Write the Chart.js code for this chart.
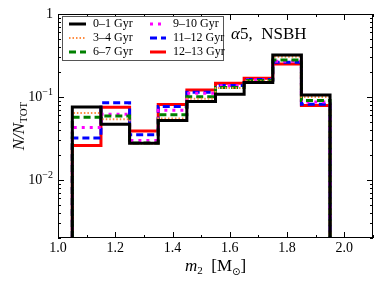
<!DOCTYPE html>
<html>
<head>
<meta charset="utf-8">
<script src="https://cdn.jsdelivr.net/npm/chart.js@4"></script>
<style>
  html, body { margin:0; padding:0; background:#fff; }
  #wrap { width:382px; height:288px; }
</style>
</head>
<body>
<div id="wrap"><canvas id="c" width="382" height="288"></canvas></div>
<script>
// ---------- data ----------
const binEdges = [1.05, 1.15, 1.25, 1.35, 1.45, 1.55, 1.65, 1.75, 1.85, 1.95];
const ageLabels = ["0\u20131 Gyr", "3\u20134 Gyr", "6\u20137 Gyr", "9\u201310 Gyr", "11\u201312 Gyr", "12\u201313 Gyr"];
const age0_1   = [0.076, 0.047, 0.0278, 0.052, 0.088, 0.108, 0.150, 0.320, 0.106];
const age3_4   = [0.064, 0.054, 0.0273, 0.055, 0.095, 0.128, 0.155, 0.305, 0.100];
const age6_7   = [0.057, 0.059, 0.0280, 0.061, 0.101, 0.130, 0.158, 0.280, 0.091];
const age9_10  = [0.043, 0.062, 0.0300, 0.069, 0.111, 0.137, 0.160, 0.270, 0.087];
const age11_12 = [0.032, 0.085, 0.0350, 0.077, 0.114, 0.138, 0.163, 0.262, 0.082];
const age12_13 = [0.026, 0.075, 0.0390, 0.081, 0.121, 0.146, 0.168, 0.250, 0.079];
const xTicks = [1.0, 1.2, 1.4, 1.6, 1.8, 2.0];
const yTicks = [1, 0.1, 0.01];

const X_MIN = 1.0, X_MAX = 2.1, Y_MIN = 0.002, Y_MAX = 1;

// histogram outline: rise at first edge, steps, drop at last edge
function stepPoints(vals){
    const pts = [{x: binEdges[0], y: Y_MIN}];
    vals.forEach((v, i) => pts.push({x: binEdges[i], y: v}));
    pts.push({x: binEdges[binEdges.length-1], y: vals[vals.length-1]});
    pts.push({x: binEdges[binEdges.length-1], y: Y_MIN});
    return pts;
}

const styles = [
    {color:"#000000", width:3,   dash:[]},
    {color:"#ff8c40", width:2,   dash:[1.5,2]},
    {color:"#008000", width:3,   dash:[7,4]},
    {color:"#ff00ff", width:3,   dash:[3,5]},
    {color:"#0000ff", width:3,   dash:[7,4]},
    {color:"#ff0000", width:3,   dash:[]}
];
const series = [age0_1, age3_4, age6_7, age9_10, age11_12, age12_13];

const datasets = series.map((vals, i) => ({
    label: ageLabels[i],
    data: stepPoints(vals),
    borderColor: styles[i].color,
    borderWidth: styles[i].width,
    borderDash: styles[i].dash,
    stepped: "before",
    pointRadius: 0,
    fill: false,
    order: i
}));

const SERIF = "'Liberation Serif', 'DejaVu Serif', serif";

// ---------- custom drawing: frame, inward ticks, labels, legend, titles ----------
const decorations = {
    id: "decorations",
    afterDraw(chart){
        const ctx = chart.ctx;
        const a = chart.chartArea;
        const xs = chart.scales.x, ys = chart.scales.y;
        ctx.save();

        // frame
        ctx.strokeStyle = "#000";
        ctx.lineWidth = 1;
        ctx.strokeRect(a.left + 0.5, a.top + 0.5, a.right - a.left - 1, a.bottom - a.top - 1);

        // x ticks (major + minor), inward on bottom and top
        ctx.beginPath();
        for (let k = 0; k <= Math.round((X_MAX - X_MIN) * 10); k++){
            const v = X_MIN + k * 0.1;
            const px = Math.round(xs.getPixelForValue(v)) + 0.5;
            const len = (k % 2 === 0) ? 6 : 3;
            ctx.moveTo(px, a.bottom); ctx.lineTo(px, a.bottom - len);
            ctx.moveTo(px, a.top); ctx.lineTo(px, a.top + len);
        }
        // y ticks (log major + minor)
        for (let e = -3; e <= 0; e++){
            for (let m = 1; m <= 9; m++){
                const v = m * Math.pow(10, e);
                if (v < Y_MIN - 1e-9 || v > Y_MAX + 1e-9) continue;
                const py = Math.round(ys.getPixelForValue(v)) + 0.5;
                const len = (m === 1) ? 6 : 3;
                ctx.moveTo(a.left, py); ctx.lineTo(a.left + len, py);
                ctx.moveTo(a.right, py); ctx.lineTo(a.right - len, py);
            }
        }
        ctx.stroke();

        // x tick labels
        ctx.fillStyle = "#000";
        ctx.font = "14px " + SERIF;
        ctx.textAlign = "center";
        ctx.textBaseline = "middle";
        xTicks.forEach(v => ctx.fillText(v.toFixed(1), xs.getPixelForValue(v), a.bottom + 10));

        // y tick labels with superscripts
        yTicks.forEach(v => {
            const py = ys.getPixelForValue(v);
            const exp = Math.round(Math.log10(v));
            ctx.textBaseline = "middle";
            if (exp === 0){
                ctx.font = "14px " + SERIF;
                ctx.textAlign = "right";
                ctx.fillText("1", a.left - 5, py);
            } else {
                ctx.font = "10px " + SERIF;
                ctx.textAlign = "right";
                const sup = "\u2212" + Math.abs(exp);
                ctx.fillText(sup, a.left - 5, py - 5);
                const w = ctx.measureText(sup).width;
                ctx.font = "14px " + SERIF;
                ctx.fillText("10", a.left - 5 - w, py);
            }
        });

        // y axis title: N/N_TOT
        ctx.save();
        ctx.translate(20, (a.top + a.bottom) / 2);
        ctx.rotate(-Math.PI / 2);
        ctx.textBaseline = "middle";
        ctx.textAlign = "left";
        const p1 = "N/N";
        const sub = "TOT";
        ctx.font = "italic 17px " + SERIF;
        const w1 = ctx.measureText(p1).width;
        ctx.font = "11px " + SERIF;
        const w2 = ctx.measureText(sub).width;
        const start = -(w1 + w2) / 2;
        ctx.font = "italic 17px " + SERIF;
        ctx.fillText(p1, start, 0);
        ctx.font = "11px " + SERIF;
        ctx.fillText(sub, start + w1, 4);
        ctx.restore();

        // x axis title: m_2 [M_sun]
        ctx.save();
        ctx.textBaseline = "middle";
        ctx.textAlign = "left";
        const parts = [
            {t:"m", f:"italic 17px " + SERIF, dy:0},
            {t:"2", f:"11px " + SERIF, dy:4},
            {t:"  [M", f:"17px " + SERIF, dy:0},
            {t:"\u2299", f:"10px 'DejaVu Sans', sans-serif", dy:5},
            {t:"]", f:"17px " + SERIF, dy:0}
        ];
        let tw = 0;
        parts.forEach(p => { ctx.font = p.f; p.w = ctx.measureText(p.t).width; tw += p.w; });
        let cx = (a.left + a.right) / 2 - tw / 2;
        const ty = 267;
        parts.forEach(p => { ctx.font = p.f; ctx.fillText(p.t, cx, ty + p.dy); cx += p.w; });
        ctx.restore();

        // annotation
        ctx.font = "italic 17px " + SERIF;
        ctx.textAlign = "left";
        ctx.textBaseline = "middle";
        ctx.fillText("\u03b1", 231, 35);
        const wa = ctx.measureText("\u03b1").width;
        ctx.font = "17px " + SERIF;
        ctx.fillText("5,  NSBH", 231 + wa, 35);

        // legend
        const lx = 62, ly = 16, lw = 161, lh = 44;
        ctx.fillStyle = "#fff";
        ctx.fillRect(lx, ly, lw, lh);
        ctx.strokeStyle = "#555";
        ctx.lineWidth = 1;
        ctx.strokeRect(lx + 0.5, ly + 0.5, lw, lh);
        const cols = [{x0:69, x1:86, tx:93}, {x0:150, x1:166, tx:173}];
        const rows = [24, 38, 52];
        chart.data.datasets.forEach((ds, i) => {
            const c = cols[Math.floor(i / 3)];
            const y = rows[i % 3];
            ctx.beginPath();
            ctx.strokeStyle = ds.borderColor;
            ctx.lineWidth = ds.borderWidth;
            ctx.setLineDash(ds.borderDash);
            ctx.moveTo(c.x0, y); ctx.lineTo(c.x1, y);
            ctx.stroke();
            ctx.setLineDash([]);
            ctx.fillStyle = "#000";
            ctx.font = "12px " + SERIF;
            ctx.textAlign = "left";
            ctx.textBaseline = "middle";
            ctx.fillText(ds.label, c.tx, y);
        });

        ctx.restore();
    }
};

new Chart(document.getElementById("c"), {
    type: "line",
    data: { datasets: datasets },
    options: {
        responsive: false,
        animation: false,
        layout: { padding: { top: 14, right: 9, left: 0, bottom: 0 } },
        plugins: { legend: { display:false }, tooltip: { enabled:false } },
        scales: {
            x: {
                type: "linear", min: X_MIN, max: X_MAX,
                grid: { display:false },
                border: { display:false },
                ticks: { display:false },
                afterFit: s => { s.height = 50; }
            },
            y: {
                type: "logarithmic", min: Y_MIN, max: Y_MAX,
                grid: { display:false },
                border: { display:false },
                ticks: { display:false },
                afterFit: s => { s.width = 58; }
            }
        }
    },
    plugins: [decorations]
});
</script>
</body>
</html>
